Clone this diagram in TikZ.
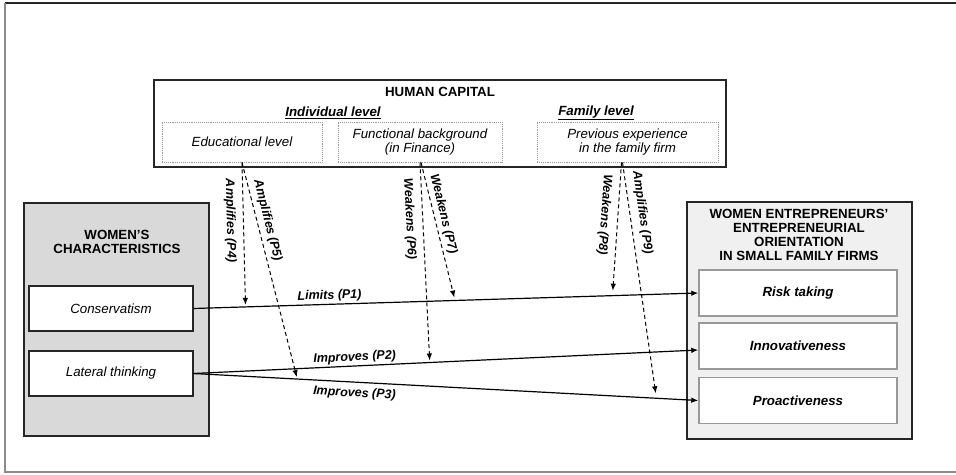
\documentclass[tikz,border=0pt]{standalone}
\usepackage{fontspec}
\setmainfont{Liberation Sans}
\usetikzlibrary{arrows.meta}

\begin{document}
\begin{tikzpicture}[
   x=1pt,y=-1pt,
   font=\fontsize{13.3}{14}\selectfont,
   >={Latex[length=7pt,width=5.5pt]},
   frame/.style={draw=black!85,line width=1.2pt},
   head/.style={align=center,font=\fontsize{13.3}{14}\selectfont\bfseries},
   level/.style={font=\fontsize{13.3}{14}\selectfont\bfseries\itshape},
   hcbox/.style={draw=black!40,densely dotted,line width=0.9pt,minimum height=40pt,align=center,font=\fontsize{13.3}{13.5}\selectfont\itshape},
   trait/.style={draw=black!85,line width=1.1pt,fill=white,minimum width=164pt,minimum height=45pt,font=\fontsize{13.3}{14}\selectfont\itshape},
   eodim/.style={draw=black!40,line width=1.4pt,fill=white,minimum width=198pt,minimum height=46pt,font=\fontsize{13.3}{14}\selectfont\bfseries\itshape},
   link/.style={->,line width=1.2pt},
   moder/.style={->,line width=1pt,dash pattern=on 4pt off 3pt},
   lab/.style={font=\fontsize{12.5}{14}\selectfont\bfseries\itshape,sloped,allow upside down,inner sep=2pt}]
\useasboundingbox (0,0) rectangle (956,474);
\draw[black!85,line width=1.2pt] (5,3) -- (956,3);
\draw[black!45,line width=1.5pt] (5,3) -- (5,472) -- (956,472);

\node[frame,minimum width=572pt,minimum height=87pt] (hc) at (440,123.5) {};
\node[head] (hctitle) at (440,92) {HUMAN CAPITAL};
\node[level] (ind) at (333,113) {\underline{Individual level}};
\node[level] (fam) at (596,113) {\underline{Family level}};
\node[hcbox,minimum width=160pt] (edu) at (242,142) {Educational level};
\node[hcbox,minimum width=164pt] (func) at (420,142) {Functional background\\(in Finance)};
\node[hcbox,minimum width=181pt] (prev) at (627.5,142) {Previous experience\\in the family firm};

\node[frame,fill=black!15,minimum width=185pt,minimum height=233pt] (wc) at (116.5,319.5) {};
\node[head] (wctitle) at (117,241.5) {WOMEN’S\\CHARACTERISTICS};
\node[trait] (cons) at (111,308.5) {Conservatism};
\node[trait] (lat) at (111,373.5) {Lateral thinking};

\node[frame,fill=black!6,minimum width=225pt,minimum height=237pt] (eo) at (799.5,320.5) {};
\node[head] (eotitle) at (799,235) {WOMEN ENTREPRENEURS’\\ENTREPRENEURIAL\\ORIENTATION\\IN SMALL FAMILY FIRMS};
\node[eodim] (risk) at (798,293) {Risk taking};
\node[eodim] (innov) at (798,346) {Innovativeness};
\node[eodim] (proact) at (798,400.5) {Proactiveness};

\draw[link] (cons.east) -- node[lab,above,pos=0.27] {Limits (P1)} (risk.west)
   coordinate[pos=0.103] (p4end) coordinate[pos=0.518] (p7end) coordinate[pos=0.83] (p8end);
\draw[link] (lat.east) -- node[lab,above,pos=0.32] {Improves (P2)} ([yshift=-4pt]innov.west)
   coordinate[pos=0.468] (p6end);
\draw[link] (lat.east) -- node[lab,below,pos=0.32,inner sep=5pt] {Improves (P3)} (proact.west)
   coordinate[pos=0.2055] (p5end) coordinate[pos=0.917] (p9end);

\draw[moder,shorten >=2pt] (edu.south) -- node[lab,below,pos=0.4,inner sep=7pt] {Amplifies (P4)} (p4end);
\draw[moder,shorten >=2pt] (edu.south) -- node[lab,above,pos=0.28,inner sep=4pt] {Amplifies (P5)} (p5end);
\draw[moder,shorten >=2pt] (func.south) -- node[lab,below,pos=0.28,inner sep=7pt] {Weakens (P6)} (p6end);
\draw[moder,shorten >=3pt] ([xshift=1pt]func.south) -- node[lab,above,pos=0.39,inner sep=3pt] {Weakens (P7)} (p7end);
\draw[moder,shorten >=5pt] ([xshift=-6pt]prev.south) -- node[lab,below,pos=0.4,inner sep=7pt] {Weakens (P8)} (p8end);
\draw[moder,shorten >=5pt] ([xshift=-5pt]prev.south) -- node[lab,above,pos=0.22,inner sep=6pt] {Amplifies (P9)} (p9end);
\end{tikzpicture}
\end{document}
